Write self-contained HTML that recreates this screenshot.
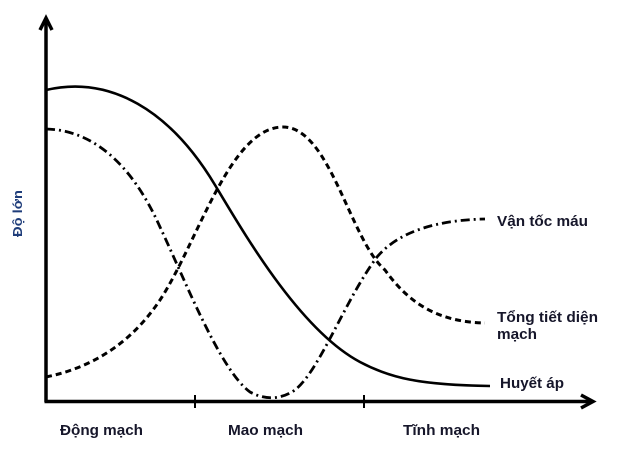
<!DOCTYPE html>
<html><head><meta charset="utf-8"><style>
html,body{margin:0;padding:0;background:#fff;}
svg{display:block;}
text{font-family:"Liberation Sans",Arial,sans-serif;font-weight:bold;fill:#16162a;}
</style></head><body>
<svg width="625" height="451" viewBox="0 0 625 451" xmlns="http://www.w3.org/2000/svg">
<!-- axes -->
<line x1="46" y1="402" x2="46" y2="20" stroke="#000" stroke-width="3.5"/>
<polyline points="40,30 46,18 52,30" fill="none" stroke="#000" stroke-width="3.5" stroke-linejoin="miter"/>
<line x1="44.5" y1="401.5" x2="592" y2="401.5" stroke="#000" stroke-width="3.5"/>
<polyline points="581,395 593,401.5 581,408" fill="none" stroke="#000" stroke-width="3.5"/>
<line x1="195" y1="395" x2="195" y2="408" stroke="#000" stroke-width="2"/>
<line x1="364" y1="395" x2="364" y2="408" stroke="#000" stroke-width="2"/>

<!-- Huyet ap (solid) -->
<path d="M46,90 C110,75 170,110 215,185 C245,235 300,330 360,362 C390,378 420,385 490,386" fill="none" stroke="#000" stroke-width="2.6"/>
<!-- Tong tiet dien (dashed) -->
<path d="M46,377 C90,368 130,345 160,300 C198,242 230,127 283,127 C330,127 350,240 385,270 C410,305 440,322 485,323" fill="none" stroke="#000" stroke-width="3" stroke-dasharray="6 4"/>
<!-- Van toc mau (dash-dot) -->
<path d="M46,129 C90,130 130,160 160,227 C185,280 220,370 250,392 C265,400 280,400 295,390 C320,370 345,300 377,257 C400,230 440,220 485,219" fill="none" stroke="#000" stroke-width="2.8" stroke-dasharray="9 4 2 4"/>

<!-- labels -->
<text x="497" y="226" font-size="15" textLength="91" lengthAdjust="spacingAndGlyphs">Vận tốc máu</text>
<text x="497" y="322" font-size="15" textLength="101" lengthAdjust="spacingAndGlyphs">Tổng tiết diện</text>
<text x="497" y="339" font-size="15" textLength="40" lengthAdjust="spacingAndGlyphs">mạch</text>
<text x="500" y="388" font-size="15" textLength="64" lengthAdjust="spacingAndGlyphs">Huyết áp</text>
<text x="60" y="435" font-size="15" textLength="83" lengthAdjust="spacingAndGlyphs">Động mạch</text>
<text x="228" y="435" font-size="15" textLength="75" lengthAdjust="spacingAndGlyphs">Mao mạch</text>
<text x="403" y="435" font-size="15" textLength="77" lengthAdjust="spacingAndGlyphs">Tĩnh mạch</text>
<text transform="translate(22,237) rotate(-90)" x="0" y="0" font-size="13" textLength="47" lengthAdjust="spacingAndGlyphs" style="fill:#1f3d7a">Độ lớn</text>
</svg>
</body></html>
